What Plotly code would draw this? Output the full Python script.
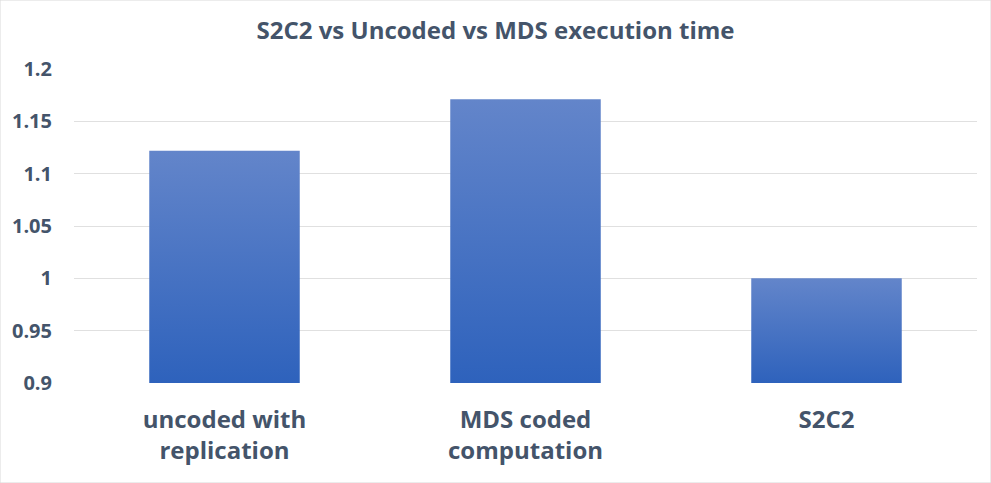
import plotly.graph_objects as go

categories = ["uncoded with<br>replication", "MDS coded<br>computation", "S2C2"]
values = [1.122, 1.171, 1.0]
y_tick_vals = [0.9, 0.95, 1.0, 1.05, 1.1, 1.15, 1.2]
y_tick_text = ["0.9", "0.95", "1", "1.05", "1.1", "1.15", "1.2"]
title_text = "S2C2 vs Uncoded vs MDS execution time"

BASE = 0.9
HALF_W = 0.25
TEXT = "#44546A"
FONT = "Open Sans"

fig = go.Figure()
for i, v in enumerate(values):
    xs = [i - HALF_W, i - HALF_W, i + HALF_W, i + HALF_W, i - HALF_W]
    ys = [BASE, v, v, BASE, BASE]
    fig.add_trace(go.Scatter(
        x=xs, y=ys, mode="lines", fill="toself",
        line=dict(width=0, color="rgba(0,0,0,0)"),
        fillgradient=dict(type="vertical",
                          colorscale=[[0, "#2E62BC"], [1, "#6385CA"]]),
        hoverinfo="skip", showlegend=False,
    ))

fig.update_layout(
    width=991, height=483,
    margin=dict(l=74, r=14, t=69, b=100),
    paper_bgcolor="white", plot_bgcolor="white",
    title=dict(text=title_text, x=0.5, xanchor="center", y=0.936, yanchor="middle",
               font=dict(family=FONT, size=24, color=TEXT, weight="bold")),
    showlegend=False,
    xaxis=dict(range=[-0.5, len(values) - 0.5], tickmode="array",
               tickvals=list(range(len(categories))), ticktext=categories,
               showgrid=False, zeroline=False, showline=False, ticks="",
               tickfont=dict(family=FONT, size=24, color=TEXT, weight="bold"),
               ticklabelstandoff=20),
    yaxis=dict(range=[0.9, 1.2], tickmode="array", tickvals=y_tick_vals,
               ticktext=y_tick_text, showgrid=True, gridcolor="#E0E0E0",
               gridwidth=1, zeroline=False, showline=False, ticks="",
               tickfont=dict(family=FONT, size=20, color=TEXT, weight="bold"),
               ticklabelstandoff=21),
    shapes=[dict(type="rect", xref="paper", yref="paper",
                 x0=-74/903, x1=1 + 14/903, y0=-100/314, y1=1 + 69/314,
                 line=dict(color="#D9D9D9", width=1))],
)

fig.write_html("out.html")
